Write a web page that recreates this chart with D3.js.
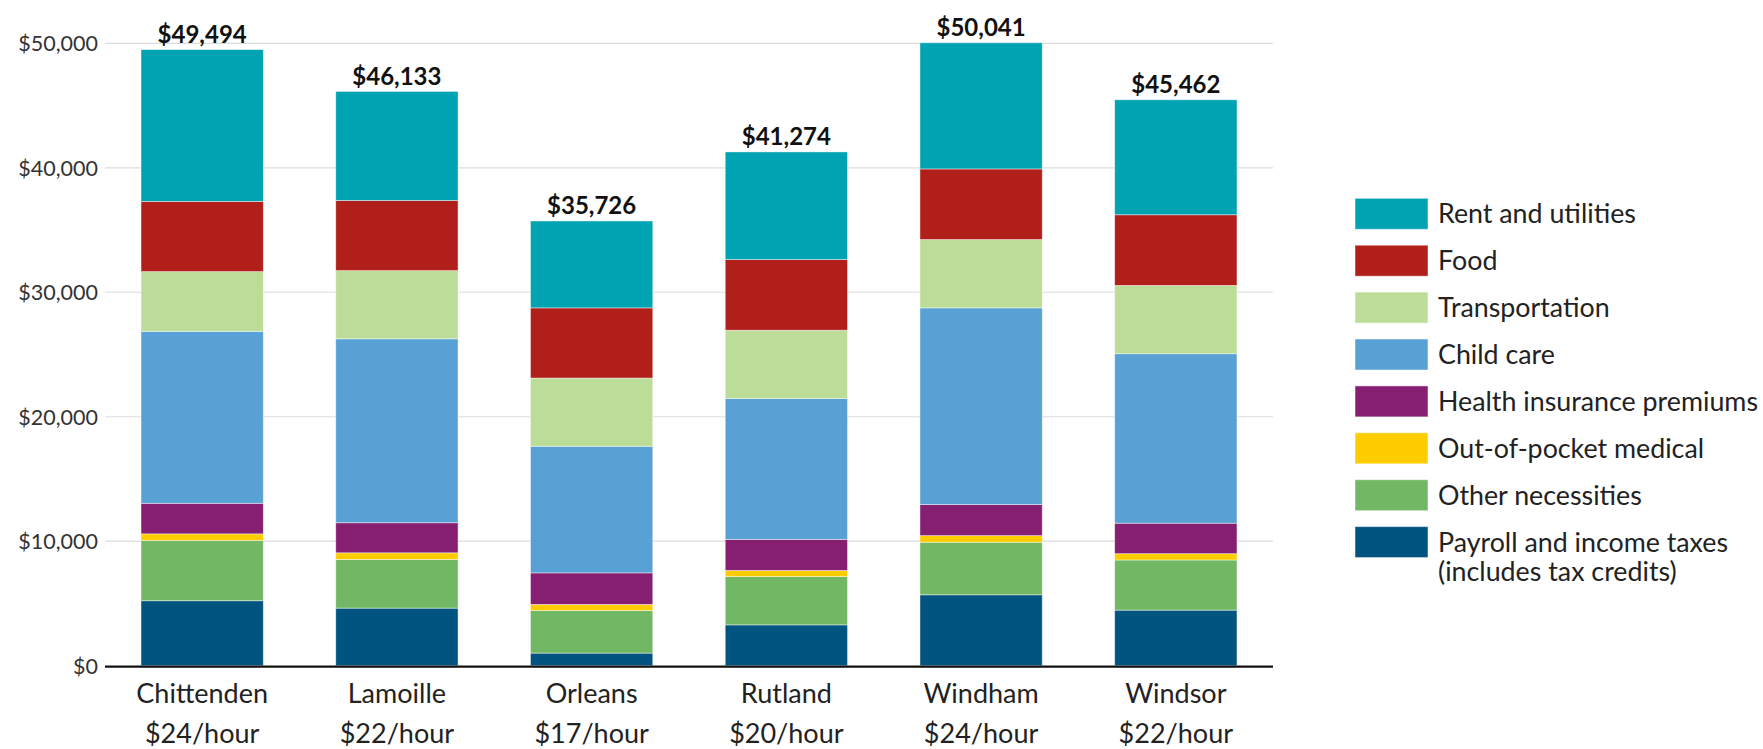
<!DOCTYPE html>
<html>
<head>
<meta charset="utf-8">
<script src="https://cdn.jsdelivr.net/npm/d3@7"></script>
<style>
  html, body { margin: 0; padding: 0; background: #fff; }
  svg { display: block; }
  text { font-family: Lato, "Open Sans", sans-serif; }
</style>
</head>
<body>
<svg id="chart" width="1763" height="749"></svg>
<script>
// ---- Data ----
const counties = ["Chittenden", "Lamoille", "Orleans", "Rutland", "Windham", "Windsor"];
const wages = ["$24/hour", "$22/hour", "$17/hour", "$20/hour", "$24/hour", "$22/hour"];
const totalLabels = ["$49,494", "$46,133", "$35,726", "$41,274", "$50,041", "$45,462"];

// series values (bottom to top of stack)
const payrollTaxes   = [5219, 4626, 1013, 3280, 5696, 4465];
const otherNeeds     = [4835, 3913, 3417, 3878, 4223, 4028];
const outOfPocket    = [537, 529, 495, 494, 530, 506];
const healthPremiums = [2456, 2417, 2532, 2498, 2497, 2451];
const childCare      = [13814, 14775, 10173, 11311, 15800, 13613];
const transportation = [4797, 5478, 5477, 5489, 5489, 5489];
const food           = [5641, 5638, 5639, 5674, 5673, 5674];
const rentUtilities  = [12195, 8757, 6980, 8650, 10133, 9236];

const seriesKeys = ["payroll", "other", "oop", "health", "child", "transport", "food", "rent"];
const seriesNames = ["Payroll and income taxes|(includes tax credits)", "Other necessities", "Out-of-pocket medical",
  "Health insurance premiums", "Child care", "Transportation", "Food", "Rent and utilities"];
const seriesColors = ["#00547f", "#72b763", "#ffcc00", "#861f71", "#58a1d5", "#bcdd98", "#b01f1a", "#00a3b1"];
const seriesValues = [payrollTaxes, otherNeeds, outOfPocket, healthPremiums, childCare, transportation, food, rentUtilities];

const yTicks = [0, 10000, 20000, 30000, 40000, 50000];

// ---- Build table ----
const rows = counties.map((c, i) => {
  const r = { county: c, wage: wages[i], total: totalLabels[i] };
  seriesKeys.forEach((k, j) => { r[k] = seriesValues[j][i]; });
  return r;
});

const svg = d3.select("#chart");
const x = d3.scaleBand().domain(counties).range([105, 1273]).paddingInner(0.372).paddingOuter(0.185);
const y = d3.scaleLinear().domain([0, 50000]).range([665.7, 43.3]);
const color = d3.scaleOrdinal().domain(seriesKeys).range(seriesColors);

// gridlines
svg.append("g").selectAll("line").data(yTicks.filter(d => d > 0)).join("line")
  .attr("x1", 105).attr("x2", 1273)
  .attr("y1", d => y(d)).attr("y2", d => y(d))
  .attr("stroke", "#dcdcdc").attr("stroke-width", 1.2);

// y axis labels
const yAxis = d3.axisLeft(y).tickValues(yTicks).tickSize(0).tickPadding(0)
  .tickFormat(d => "$" + d3.format(",")(d));
const gy = svg.append("g").attr("transform", "translate(98,0)").call(yAxis);
gy.select(".domain").remove();
gy.selectAll("text").attr("font-size", 21.5).attr("fill", "#333").attr("dy", "0.35em")
  .style("font-family", "Lato, sans-serif");

// stacked bars
const stack = d3.stack().keys(seriesKeys)(rows);
svg.append("g").selectAll("g").data(stack).join("g")
  .attr("fill", d => color(d.key))
  .selectAll("rect").data(d => d).join("rect")
  .attr("x", d => x(d.data.county))
  .attr("width", x.bandwidth())
  .attr("y", d => y(d[1]))
  .attr("height", d => y(d[0]) - y(d[1]))
  .attr("stroke", "rgba(255,255,255,0.55)").attr("stroke-width", 0.8);

// baseline
svg.append("line").attr("x1", 105).attr("x2", 1273).attr("y1", y(0) + 1).attr("y2", y(0) + 1)
  .attr("stroke", "#111").attr("stroke-width", 2.2);

// total labels
svg.append("g").selectAll("text").data(rows).join("text")
  .attr("x", d => x(d.county) + x.bandwidth() / 2)
  .attr("y", d => y(d3.sum(seriesKeys, k => d[k])) - 6.5)
  .attr("text-anchor", "middle").attr("font-size", 24).attr("font-weight", 700).attr("fill", "#111")
  .text(d => d.total);

// category labels
const xl = svg.append("g").selectAll("text").data(rows).join("text")
  .attr("x", d => x(d.county) + x.bandwidth() / 2)
  .attr("text-anchor", "middle").attr("font-size", 27).attr("fill", "#222");
xl.append("tspan").attr("x", d => x(d.county) + x.bandwidth() / 2).attr("y", 703).text(d => d.county);
xl.append("tspan").attr("x", d => x(d.county) + x.bandwidth() / 2).attr("y", 743).text(d => d.wage);

// legend (top to bottom: reverse of stack)
const legendOrder = seriesKeys.map((k, i) => ({ key: k, name: seriesNames[i] })).reverse();
const lg = svg.append("g").selectAll("g").data(legendOrder).join("g")
  .attr("transform", (d, i) => `translate(1355,${198.3 + i * 46.9})`);
lg.append("rect").attr("width", 73).attr("height", 31).attr("fill", d => color(d.key))
  .attr("stroke", "rgba(255,255,255,0.5)").attr("stroke-width", 1);
const lt = lg.append("text").attr("x", 83).attr("font-size", 26.8).attr("fill", "#222");
lt.each(function(d) {
  const parts = d.name.split("|");
  const t = d3.select(this);
  parts.forEach((p, j) => {
    t.append("tspan").attr("x", 83).attr("y", 25 + j * 29).text(p);
  });
});
</script>
</body>
</html>
